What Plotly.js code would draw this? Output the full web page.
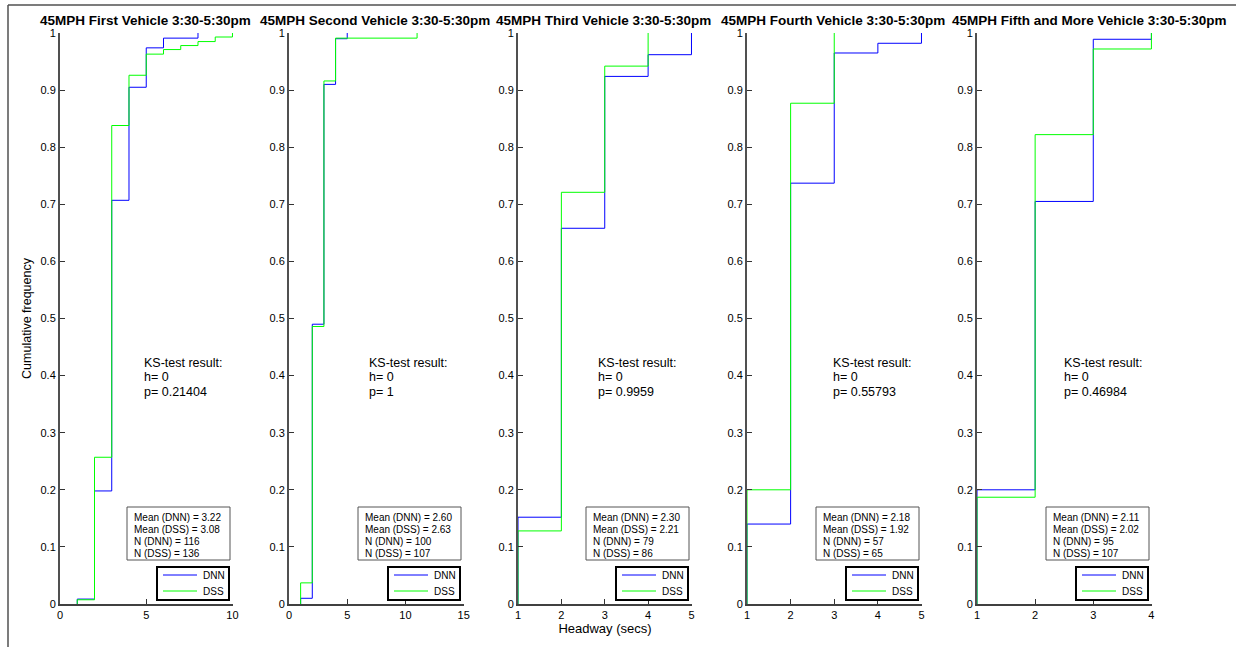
<!DOCTYPE html>
<html>
<head>
<meta charset="utf-8">
<script src="https://cdn.plot.ly/plotly-3.0.1.min.js"></script>
<style>html,body{margin:0;padding:0;background:#fff;}#chart{width:1236px;height:647px;}</style>
</head>
<body>
<div id="chart"></div>
<script>
// ---------- data ----------
const panelTitles = [
  "45MPH First Vehicle 3:30-5:30pm",
  "45MPH Second Vehicle 3:30-5:30pm",
  "45MPH Third Vehicle 3:30-5:30pm",
  "45MPH Fourth Vehicle 3:30-5:30pm",
  "45MPH Fifth and More Vehicle 3:30-5:30pm"
];
const seriesNames = ["DNN", "DSS"];

// headway values (secs) and cumulative frequency at each step
const dnn1X = [1, 2, 3, 4, 5, 6, 8];
const dnn1F = [0.0086, 0.198, 0.707, 0.905, 0.974, 0.991, 1];
const dss1X = [1, 2, 3, 4, 5, 6, 7, 8, 9, 10];
const dss1F = [0.0074, 0.257, 0.838, 0.926, 0.963, 0.971, 0.978, 0.985, 0.993, 1];

const dnn2X = [1, 2, 3, 4, 5];
const dnn2F = [0.010, 0.490, 0.910, 0.990, 1];
const dss2X = [1, 2, 3, 4, 11];
const dss2F = [0.037, 0.486, 0.916, 0.991, 1];

const dnn3X = [1, 2, 3, 4, 5];
const dnn3F = [0.152, 0.658, 0.924, 0.962, 1];
const dss3X = [1, 2, 3, 4];
const dss3F = [0.128, 0.721, 0.942, 1];

const dnn4X = [1, 2, 3, 4, 5];
const dnn4F = [0.140, 0.737, 0.965, 0.982, 1];
const dss4X = [1, 2, 3];
const dss4F = [0.200, 0.877, 1];

const dnn5X = [1, 2, 3, 4];
const dnn5F = [0.200, 0.705, 0.989, 1];
const dss5X = [1, 2, 3, 4];
const dss5F = [0.187, 0.822, 0.972, 1];

const xTicks1 = [0, 5, 10];
const xTicks2 = [0, 5, 10, 15];
const xTicks3 = [1, 2, 3, 4, 5];
const xTicks4 = [1, 2, 3, 4, 5];
const xTicks5 = [1, 2, 3, 4];
const yTicks = [0, 0.1, 0.2, 0.3, 0.4, 0.5, 0.6, 0.7, 0.8, 0.9, 1];

const ksH = ["0", "0", "0", "0", "0"];
const ksP = ["0.21404", "1", "0.9959", "0.55793", "0.46984"];
const meanDNN = ["3.22", "2.60", "2.30", "2.18", "2.11"];
const meanDSS = ["3.08", "2.63", "2.21", "1.92", "2.02"];
const nDNN = ["116", "100", "79", "57", "95"];
const nDSS = ["136", "107", "86", "65", "107"];

// ---------- layout helpers ----------
const W = 1236, H = 647;
const px = x => x / W;
const py = y => 1 - y / H;
const panelPx = [[60, 233], [289, 464], [518, 692], [747, 922], [977, 1152]];
const titleCx = [145, 375, 603, 833, 1089];
const xRanges = [[0, 10.03], [0, 15.03], [1, 5.012], [1, 5.012], [1, 4.01]];
const ksXpx = [143, 368, 597, 832, 1063];
const plotTop = 33, plotBot = 604;
const FONT = 'Arial, "Liberation Sans", Helvetica, sans-serif';
const BLUE = '#0000ff', GREEN = '#00ff00';

const dnnX = [dnn1X, dnn2X, dnn3X, dnn4X, dnn5X];
const dnnF = [dnn1F, dnn2F, dnn3F, dnn4F, dnn5F];
const dssX = [dss1X, dss2X, dss3X, dss4X, dss5X];
const dssF = [dss1F, dss2F, dss3F, dss4F, dss5F];
const xTicks = [xTicks1, xTicks2, xTicks3, xTicks4, xTicks5];

const traces = [];
const layout = {
  width: W, height: H,
  margin: {l: 0, r: 0, t: 0, b: 0, pad: 0},
  paper_bgcolor: '#ffffff', plot_bgcolor: '#ffffff',
  showlegend: false,
  font: {family: FONT, color: '#000', size: 11},
  annotations: [], shapes: []
};

// outer figure frame
layout.shapes.push({type: 'line', xref: 'paper', yref: 'paper', x0: px(8), x1: px(1240), y0: py(5), y1: py(5), line: {color: '#505050', width: 1.5}});
layout.shapes.push({type: 'line', xref: 'paper', yref: 'paper', x0: px(8), x1: px(8), y0: py(5), y1: py(660), line: {color: '#505050', width: 1.5}});

function stepTrace(xs, fs, name, color, i) {
  return {
    type: 'scatter', mode: 'lines', name: name,
    x: [xs[0]].concat(xs), y: [0].concat(fs),
    line: {shape: 'hv', color: color, width: 1},
    xaxis: 'x' + (i === 0 ? '' : i + 1), yaxis: 'y' + (i === 0 ? '' : i + 1),
    hoverinfo: 'x+y+name'
  };
}

for (let i = 0; i < 5; i++) {
  const sfx = i === 0 ? '' : String(i + 1);
  const L = panelPx[i][0], R = panelPx[i][1];
  traces.push(stepTrace(dnnX[i], dnnF[i], seriesNames[0], BLUE, i));
  traces.push(stepTrace(dssX[i], dssF[i], seriesNames[1], GREEN, i));

  layout['xaxis' + sfx] = {
    domain: [px(L), px(R)], range: xRanges[i], anchor: 'y' + sfx,
    tickmode: 'array', tickvals: xTicks[i], ticktext: xTicks[i].map(String),
    ticks: 'inside', ticklen: 5, tickwidth: 1, tickcolor: '#333',
    showline: true, linecolor: '#404040', linewidth: 1.5,
    showgrid: false, zeroline: false, fixedrange: true,
    tickfont: {size: 11, family: FONT, color: '#000'}
  };
  layout['yaxis' + sfx] = {
    domain: [py(plotBot), py(plotTop)], range: [0, 1], anchor: 'x' + sfx,
    tickmode: 'array', tickvals: yTicks, ticktext: yTicks.map(String),
    ticks: 'inside', ticklen: 5, tickwidth: 1, tickcolor: '#333',
    showline: true, linecolor: '#505050', linewidth: 2,
    showgrid: false, zeroline: false, fixedrange: true,
    tickfont: {size: 11, family: FONT, color: '#000'}
  };

  // panel title
  layout.annotations.push({
    xref: 'paper', yref: 'paper', x: px(titleCx[i]), y: py(20),
    xanchor: 'center', yanchor: 'middle', showarrow: false,
    text: '<b>' + panelTitles[i] + '</b>', font: {size: 13.5, family: FONT, color: '#000'}
  });

  // KS-test text
  const ksLines = ['KS-test result:', 'h=\u00a0' + ksH[i], 'p=\u00a0' + ksP[i]];
  ksLines.forEach((t, k) => {
    layout.annotations.push({
      xref: 'paper', yref: 'paper', x: px(ksXpx[i]), y: py(363 + 14.3 * k),
      xanchor: 'left', yanchor: 'middle', showarrow: false, borderpad: 0,
      text: t, font: {size: 12.5, family: FONT, color: '#000'}
    });
  });

  // stats box
  layout.shapes.push({type: 'rect', xref: 'paper', yref: 'paper',
    x0: px(R - 106), x1: px(R - 3), y0: py(507), y1: py(560),
    fillcolor: '#ffffff', line: {color: '#555', width: 1}});
  const statLines = ['Mean (DNN) = ' + meanDNN[i], 'Mean (DSS) = ' + meanDSS[i], 'N (DNN) = ' + nDNN[i], 'N (DSS) = ' + nDSS[i]];
  statLines.forEach((t, k) => {
    layout.annotations.push({
      xref: 'paper', yref: 'paper', x: px(R - 100), y: py(517 + 12 * k),
      xanchor: 'left', yanchor: 'middle', showarrow: false, borderpad: 0,
      text: t, font: {size: 10, family: FONT, color: '#000'}
    });
  });

  // legend box
  layout.shapes.push({type: 'rect', xref: 'paper', yref: 'paper',
    x0: px(R - 76), x1: px(R - 4), y0: py(567), y1: py(600),
    fillcolor: '#ffffff', line: {color: '#000', width: 2}});
  [[575, BLUE, seriesNames[0]], [591, GREEN, seriesNames[1]]].forEach(([yy, c, nm]) => {
    layout.shapes.push({type: 'line', xref: 'paper', yref: 'paper',
      x0: px(R - 70), x1: px(R - 36), y0: py(yy), y1: py(yy), line: {color: c, width: 1}});
    layout.annotations.push({
      xref: 'paper', yref: 'paper', x: px(R - 31), y: py(yy),
      xanchor: 'left', yanchor: 'middle', showarrow: false, borderpad: 0,
      text: nm, font: {size: 10, family: FONT, color: '#000'}
    });
  });
}

layout.yaxis.title = {text: 'Cumulative frequency', font: {size: 12.5, family: FONT, color: '#000'}, standoff: 6};
layout.xaxis3.title = {text: 'Headway (secs)', font: {size: 13, family: FONT, color: '#000'}, standoff: 4};

Plotly.newPlot('chart', traces, layout, {displayModeBar: false, staticPlot: false});
</script>
</body>
</html>
